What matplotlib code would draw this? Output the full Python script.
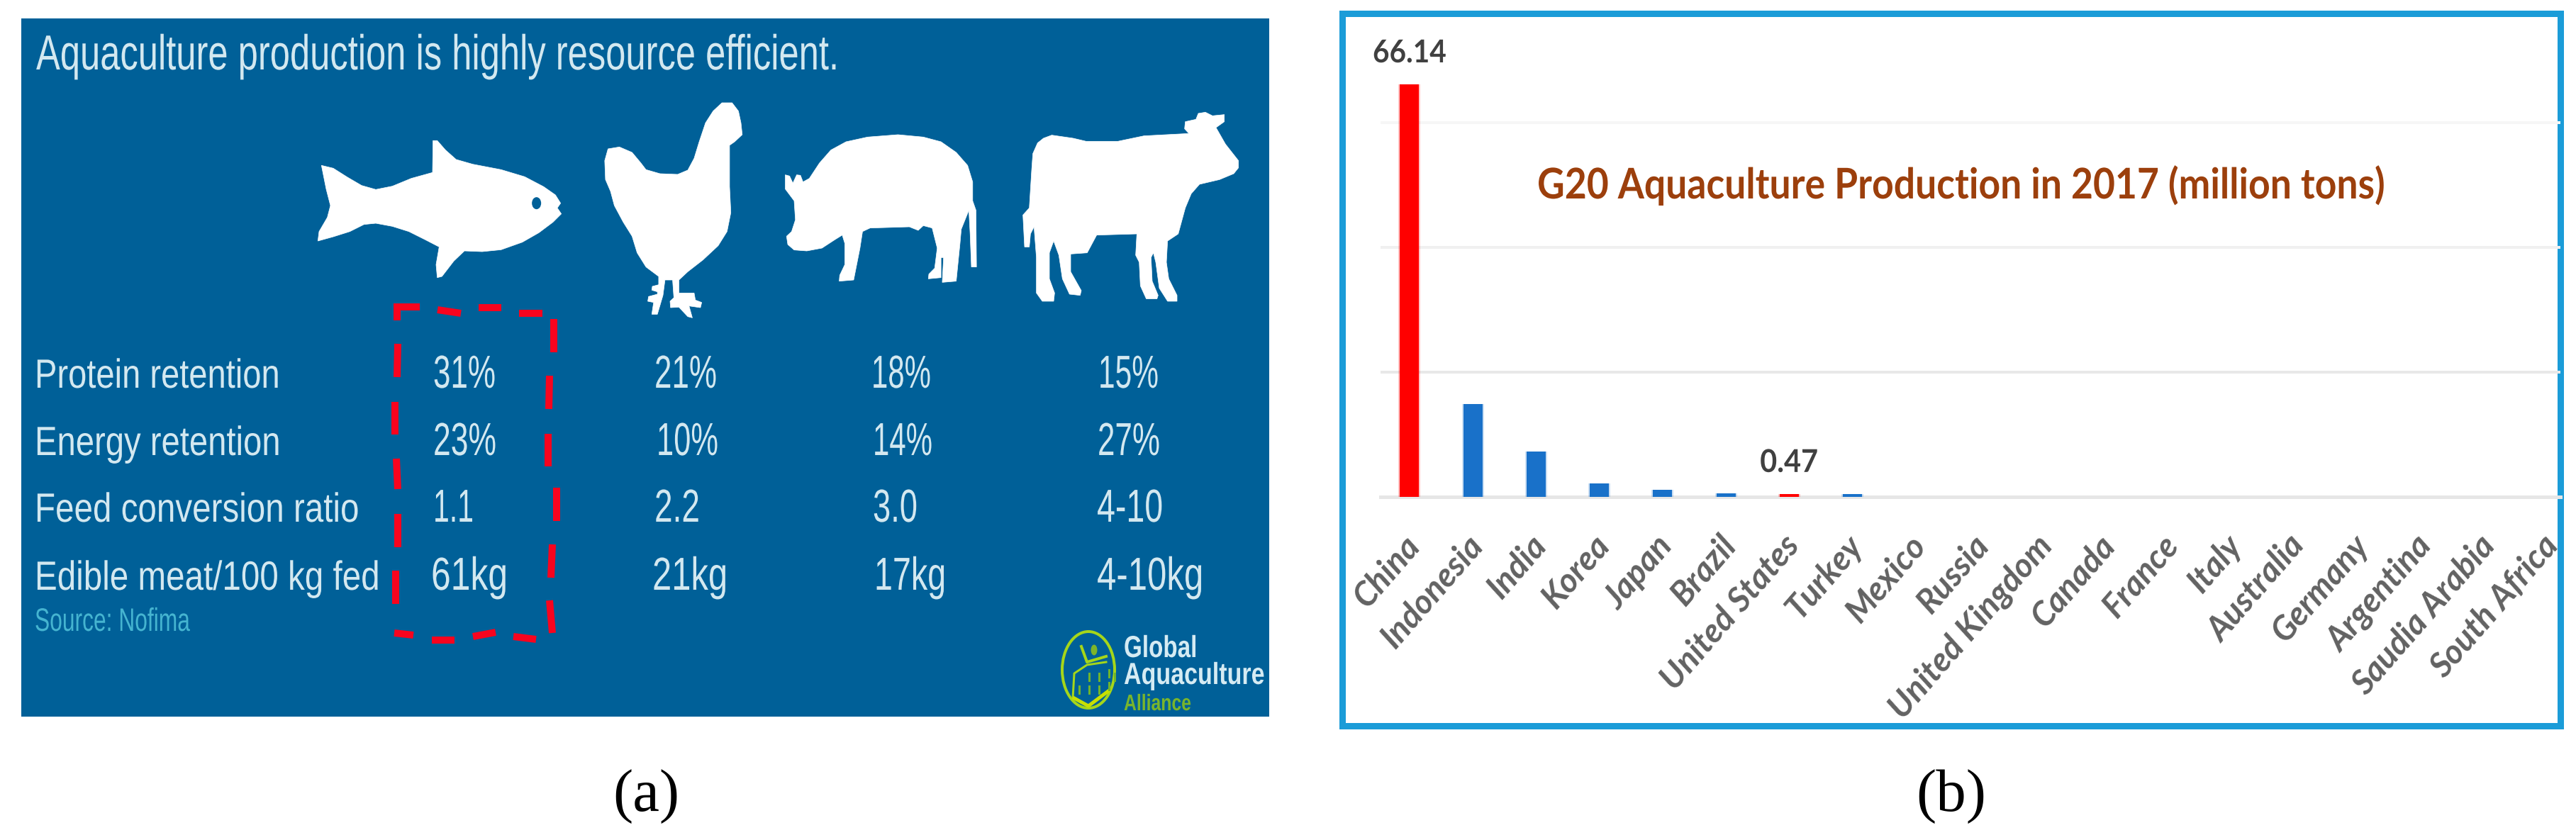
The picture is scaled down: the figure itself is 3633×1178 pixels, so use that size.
import matplotlib
matplotlib.use("Agg")
import matplotlib.pyplot as plt
from matplotlib import font_manager as fm
from matplotlib.patches import Rectangle, Polygon, Ellipse
from matplotlib.patheffects import AbstractPathEffect
from matplotlib.transforms import Affine2D, ScaledTranslation
import numpy as np

# ---------- chart data (panel b) ----------
countries = ["China", "Indonesia", "India", "Korea", "Japan", "Brazil", "United States", "Turkey",
             "Mexico", "Russia", "United Kingdom", "Canada", "France", "Italy", "Australia",
             "Germany", "Argentina", "Saudia Arabia", "South Africa"]
production = [66.14, 14.9, 7.3, 2.2, 1.15, 0.6, 0.47, 0.5, 0, 0, 0, 0, 0, 0, 0, 0, 0, 0, 0]
highlighted = ["China", "United States"]
labelled = {"China": "66.14", "United States": "0.47"}
grid_values = [20, 40, 60]
grid_colors = ["#e8e8e8", "#f0f0f0", "#f6f6f6"]
chart_title = "G20 Aquaculture Production in 2017 (million tons)"

# ---------- table data (panel a) ----------
slide_title = "Aquaculture production is highly resource efficient."
row_labels = ["Protein retention", "Energy retention", "Feed conversion ratio", "Edible meat/100 kg fed"]
col_fish = ["31%", "23%", "1.1", "61kg"]
col_chicken = ["21%", "10%", "2.2", "21kg"]
col_pig = ["18%", "14%", "3.0", "17kg"]
col_cow = ["15%", "27%", "4-10", "4-10kg"]

W, H = 3633, 1178
PX = 0.72
avail = {f.name for f in fm.fontManager.ttflist}
NARROW = "Liberation Sans Narrow" if "Liberation Sans Narrow" in avail else "Liberation Sans"

fig = plt.figure(figsize=(W / 100, H / 100), dpi=100, facecolor="white")
bg = fig.add_axes([0, 0, 1, 1], zorder=1)
bg.set_xlim(0, W); bg.set_ylim(H, 0); bg.axis("off")
renderer = fig.canvas.get_renderer()


class Squeeze(AbstractPathEffect):
    """Condense the glyphs horizontally, as in the stretched source bitmap."""
    def __init__(self, sx, shift=0.0):
        super().__init__()
        self.sx = sx
        self.shift = shift

    def draw_path(self, renderer, gc, tpath, affine, rgbFace=None):
        a = Affine2D().scale(self.sx, 1) + affine + Affine2D().translate(self.shift, 0)
        renderer.draw_path(gc, tpath, a, rgbFace)


def fit(t, width, shift=0.0):
    w = t.get_window_extent(renderer).width
    t.set_path_effects([Squeeze(width / w, shift)])
    return t


def stext(x0, x1, base, s, size, color="#d3e8f0", family=None, weight="normal", limit=None):
    t = bg.text(x0, base, s, fontsize=size, color=color, family=family or NARROW,
                weight=weight, ha="left", va="baseline")
    shift = 0.0
    if limit is not None:
        natural = t.get_window_extent(renderer).width
        shift = max(0.0, x0 + natural - limit)
        t.set_x(x0 - shift)
    return fit(t, x1 - x0, shift)


# ---------- slide ----------
BLUE = "#006098"
bg.add_patch(Rectangle((30, 26), 1760, 985, fc=BLUE, ec="none"))
stext(51, 1184, 98, slide_title, 50)

rows_y = [547, 642, 736, 832]
label_x1 = [395, 396, 507, 536]
probe = bg.text(0, 0, row_labels[-1], fontsize=44, family=NARROW)
label_size = min(44, 44 * 590 / probe.get_window_extent(renderer).width)
probe.remove()
for y, s, x1 in zip(rows_y, row_labels, label_x1):
    stext(49, x1, y, s, label_size, limit=602)
stext(49, 268, 890, "Source: Nofima", 33, color="#45b4d0")

col_x = [
    (col_fish, [(611, 699), (611, 700), (611, 668), (608, 716)]),
    (col_chicken, [(923, 1011), (926, 1013), (923, 987), (920, 1026)]),
    (col_pig, [(1229, 1313), (1231, 1315), (1231, 1294), (1233, 1334)]),
    (col_cow, [(1549, 1634), (1548, 1636), (1547, 1640), (1547, 1697)]),
]
for vals, spans in col_x:
    for y, s, (x0, x1) in zip(rows_y, vals, spans):
        stext(x0, x1, y, s, 47)

# silhouettes (outline)
fish = [(100,160),(150,172),(210,210),(270,245),(330,262),(400,248),(480,215),(570,190),(572,55),(590,55),(625,95),(670,135),(740,155),(860,178),(960,208),(1040,250),(1090,285),(1112,320),(1098,340),(1115,365),(1080,400),(1020,445),(950,485),(860,517),(780,525),(705,522),(660,565),(610,630),(590,635),(585,580),(598,505),(540,475),(470,440),(400,418),(330,405),(280,410),(220,440),(150,462),(85,480),(90,440),(125,380),(138,330),(120,260)]
chicken = [(105,240),(150,232),(200,255),(235,300),(255,328),(310,345),(380,348),(420,330),(445,280),(465,210),(490,130),(520,80),(555,45),(595,45),(620,80),(630,130),(635,180),(605,210),(585,225),(585,400),(590,510),(575,590),(540,650),(480,710),(420,760),(385,795),(385,850),(445,850),(450,880),(475,890),(470,912),(425,905),(438,955),(420,950),(385,910),(352,912),(350,885),(365,870),(360,795),(330,795),(322,860),(300,940),(278,940),(285,890),(262,885),(265,865),(300,855),(300,845),(278,838),(280,822),(305,815),(305,780),(255,740),(220,680),(200,610),(165,550),(130,480),(115,420),(95,370),(92,290)]
pig = [(805,350),(822,355),(835,385),(850,350),(865,352),(875,380),(900,365),(940,300),(985,245),(1045,210),(1130,190),(1250,180),(1350,190),(1420,210),(1480,255),(1525,310),(1545,380),(1545,460),(1558,500),(1560,740),(1540,740),(1535,600),(1530,500),(1500,580),(1495,640),(1480,800),(1425,805),(1430,700),(1420,700),(1420,785),(1370,790),(1372,770),(1395,745),(1405,660),(1385,575),(1350,565),(1330,585),(1295,570),(1140,575),(1110,590),(1100,660),(1075,795),(1018,800),(1020,775),(1040,730),(1040,640),(1030,605),(1000,625),(950,660),(890,672),(840,668),(815,645),(810,610),(830,590),(845,540),(840,460),(805,410)]
cow = [(215,195),(250,182),(340,195),(395,208),(530,208),(640,185),(830,175),(812,155),(815,125),(860,115),(870,90),(900,85),(930,100),(980,95),(980,125),(945,150),(985,220),(1040,290),(1040,320),(1020,345),(960,370),(875,390),(840,430),(815,490),(785,600),(740,630),(735,720),(745,790),(780,860),(780,885),(740,885),(705,830),(690,720),(680,680),(670,700),(675,800),(700,860),(695,875),(650,875),(625,820),(620,720),(605,690),(610,600),(440,605),(400,680),(330,685),(330,760),(375,840),(370,860),(325,855),(295,790),(280,690),(258,630),(240,680),(240,790),(262,850),(258,885),(210,885),(185,850),(185,700),(175,570),(160,600),(155,655),(135,655),(128,520),(155,490),(165,330),(170,260),(190,215)]


def shape(pts, x0, y0, sx, sy):
    p = np.array(pts, float)
    xy = np.c_[x0 + p[:, 0] * sx, y0 + p[:, 1] * sy]
    bg.add_patch(Polygon(xy, closed=True, fc="white", ec="white", lw=0.5))


shape(fish, 420, 180, 1 / 3, 1 / 3)
bg.add_patch(Ellipse((420 + 1010 / 3, 180 + 320 / 3), 13, 17, fc=BLUE, ec="none"))
shape(chicken, 820, 130, 560 / 1568, 1 / 3)
shape(pig, 820, 130, 560 / 1568, 1 / 3)
shape(cow, 1400, 130, 1 / 3, 1 / 3)

# dashed hand-drawn box
dash_segments = [
    [(560, 452), (560, 433), (592, 433)], [(617, 437), (650, 442)], [(675, 434), (707, 434)], [(732, 442), (765, 442)],
    [(781, 450), (781, 497)], [(775, 530), (774, 577)], [(773, 612), (773, 658)], [(785, 688), (785, 735)],
    [(779, 768), (777, 815)], [(775, 847), (779, 893)],
    [(561, 485), (560, 532)], [(557, 567), (557, 613)], [(559, 647), (561, 690)], [(561, 725), (561, 772)], [(558, 805), (558, 852)],
    [(556, 893), (583, 896)], [(609, 903), (641, 903)], [(667, 898), (699, 892)], [(724, 898), (756, 902)],
]
for seg in dash_segments:
    xs, ys = zip(*seg)
    bg.plot(xs, ys, color="#f8041e", lw=10 * PX, solid_capstyle="butt", solid_joinstyle="miter")

# logo
LIME = "#a5d61a"
bg.add_patch(Ellipse((1535, 945), 74, 108, fc="none", ec=LIME, lw=4 * PX))
bg.add_patch(Ellipse((1543, 917), 9, 15, fc="#7db52a", ec="none"))
bg.plot([1525, 1533, 1560], [912, 934, 926], color=LIME, lw=4 * PX)
bg.plot([1513, 1515, 1533, 1560], [985, 950, 938, 934], color=LIME, lw=3 * PX)
bg.plot([1515, 1535, 1563], [985, 996, 975], color="#c8e000", lw=5 * PX)
for dx, dy in [(1536, 955), (1550, 955), (1564, 950), (1572, 955), (1522, 973), (1536, 973), (1550, 973), (1564, 968)]:
    bg.plot([dx, dx], [dy - 5, dy + 5], color="#6fb42c", lw=3 * PX)
stext(1585, 1688, 927, "Global", 31, color="#d5ebf3", family="Liberation Sans", weight="bold")
stext(1585, 1783, 965, "Aquaculture", 31, color="#d5ebf3", family="Liberation Sans", weight="bold")
stext(1585, 1680, 1002, "Alliance", 23, color="#79b52c", family="Liberation Sans", weight="bold")

# panel letters
for x, s in [(911, "(a)"), (2752, "(b)")]:
    bg.text(x, 1144, s, fontsize=61, family="Liberation Serif", color="black", ha="center", va="baseline")

# ---------- chart frame ----------
bg.add_patch(Rectangle((1893, 19), 1718, 1005, fc="white", ec="#1b9cd8", lw=9 * PX))
stext(2168, 3365, 280, chart_title, 43, color="#9c3f0c", family="Lato", weight="bold")

# ---------- bar chart ----------
L, R, T, B = 1947, 3611, 30, 701
ax = fig.add_axes([L / W, 1 - B / H, (R - L) / W, (B - T) / H], zorder=2)
ax.patch.set_alpha(0)
step = 89.2
ax.set_xlim(-(1988 - L) / step, (R - 1988) / step)
ax.set_ylim(0, (B - T) / 8.80)
for s in ax.spines.values():
    s.set_visible(False)
ax.set_yticks([])

for v, c in zip(grid_values, grid_colors):
    ax.axhline(v, color=c, lw=4 * PX, zorder=1)
ax.axhline(0, color="#e6e6e6", lw=5 * PX, zorder=1, clip_on=False)

x = np.arange(len(countries))
colors = ["#ff0000" if c in highlighted else "#1971c9" for c in countries]
ax.bar(x, production, width=31 / step, color=colors, alpha=0.22, zorder=2, lw=0)
ax.bar(x, production, width=27 / step, color=colors, zorder=3, lw=0)

for i, c in enumerate(countries):
    if c in labelled:
        wd = 104 if c == "China" else 82
        t = ax.annotate(labelled[c], (i, production[i]), xytext=(-wd / 2 * PX, 31 * PX),
                        textcoords="offset points", ha="left", va="baseline", fontsize=32,
                        color="#404040", family="Lato", weight="bold")
        fit(t, wd)

ax.set_xticks(x)
ax.set_xticklabels(countries, rotation=49, rotation_mode="anchor", ha="right", va="center",
                   fontsize=34, family="Lato", style="italic", weight="bold", color="#626262")
ax.tick_params(axis="x", length=0, pad=44)
offset = ScaledTranslation(6 / 100, 0, fig.dpi_scale_trans)
for lab in ax.get_xticklabels():
    lab.set_transform(lab.get_transform() + offset)
    lab.set_clip_on(False)

fig.savefig("out.png", dpi=100)
